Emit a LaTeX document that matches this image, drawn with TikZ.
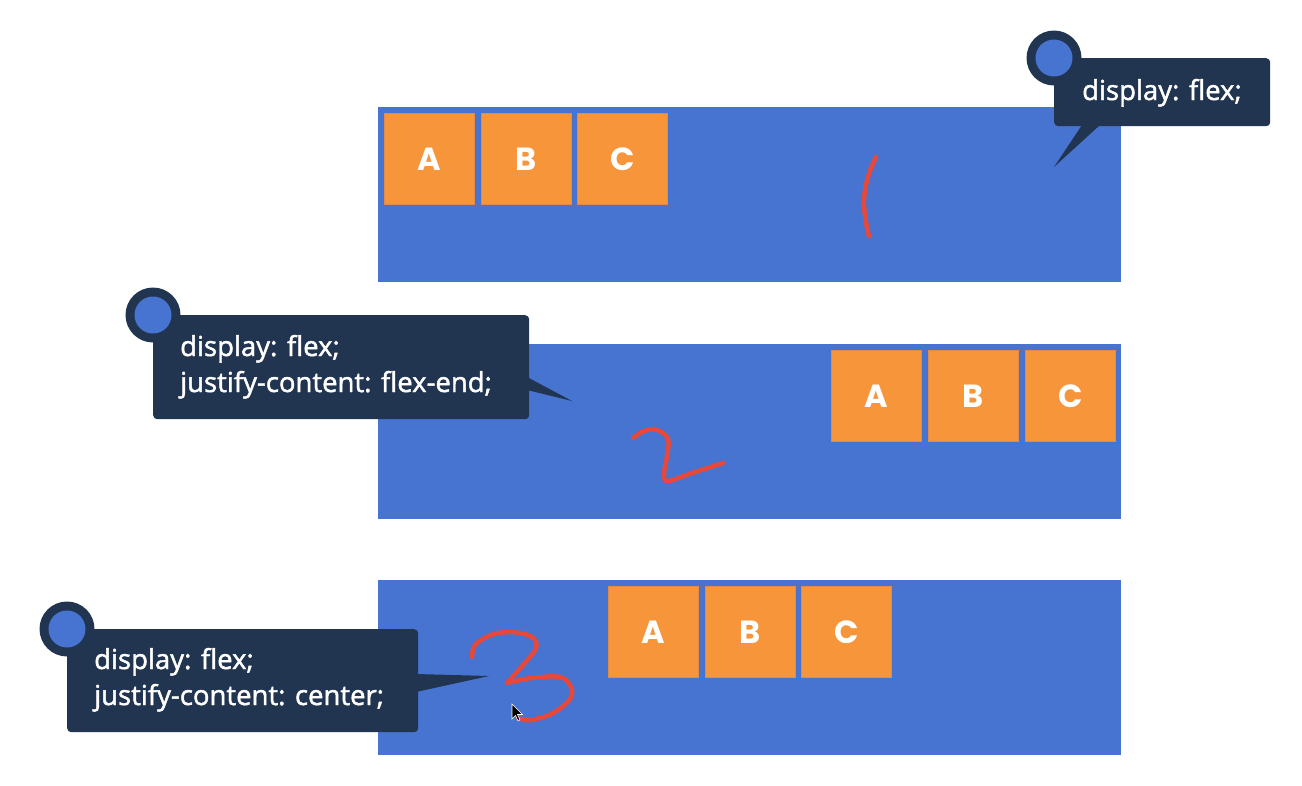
\documentclass[tikz,border=0pt]{standalone}
\usepackage{fontspec}
\setmainfont{Open Sans}
\newfontfamily\codefont{Open Sans}[FakeBold=1.6]
\newfontfamily\abcfont{Poppins}
\begin{document}
\begin{tikzpicture}[x=1pt,y=-1pt]
\definecolor{flexblue}{RGB}{70,116,208}
\definecolor{itemorange}{RGB}{247,149,59}
\definecolor{itemedge}{RGB}{225,140,70}
\definecolor{navy}{RGB}{34,53,80}
\definecolor{penred}{RGB}{232,72,58}
\tikzset{
  container/.style={fill=flexblue, draw=none, anchor=north west, minimum width=743pt, minimum height=175pt, inner sep=0pt},
  item/.style={fill=itemorange, draw=itemedge, line width=0.6pt, anchor=north west, minimum width=90pt, minimum height=91pt, inner sep=0pt, text=white, font=\abcfont\bfseries\fontsize{32}{32}\selectfont},
  callbox/.style={fill=navy, draw=none, rounded corners=4pt, anchor=north west, inner sep=0pt},
  ring/.style={circle, fill=navy, minimum size=55pt, inner sep=0pt},
  dot/.style={circle, fill=flexblue, minimum size=37pt, inner sep=0pt},
  codetext/.style={text=white, anchor=base west, inner sep=0pt, font=\codefont\fontsize{27.5}{30}\selectfont},
  pen/.style={draw=penred, line width=4.5pt, line cap=round, line join=round},
}
\useasboundingbox (0,0) rectangle (1302,785);
\fill[white] (0,0) rectangle (1302,785);

% containers
\node[container] (c1) at (378,107) {};
\node[container] (c2) at (378,344) {};
\node[container] (c3) at (378,580) {};

% items row 1 (flex-start)
\node[item] (a1) at (384,113) {A};
\node[item] (b1) at (480.5,113) {B};
\node[item] (cc1) at (577,113) {C};
% items row 2 (flex-end)
\node[item] (a2) at (831,350) {A};
\node[item] (b2) at (928,350) {B};
\node[item] (cc2) at (1025,350) {C};
% items row 3 (center)
\node[item] (a3) at (608,586) {A};
\node[item] (b3) at (704.5,586) {B};
\node[item] (cc3) at (801,586) {C};

% callout 1
\coordinate (t1l) at (1082,125);
\coordinate (t1r) at (1100,125);
\coordinate (t1tip) at (1054,167);
\fill[navy] (t1l) -- (t1tip) -- (t1r) -- cycle;
\node[callbox, minimum width=216pt, minimum height=68pt] (k1) at (1054,58) {};
\node[ring] (r1) at (k1.north west) {};
\node[dot] (d1) at (r1.center) {};
\node[codetext] (x1) at (1082,100) {display: flex;};

% callout 2
\coordinate (t2t) at (527,377);
\coordinate (t2b) at (527,390);
\coordinate (t2tip) at (572,401);
\fill[navy] (t2t) -- (t2tip) -- (t2b) -- cycle;
\node[callbox, minimum width=376pt, minimum height=104pt] (k2) at (153,315) {};
\node[ring] (r2) at (k2.north west) {};
\node[dot] (d2) at (r2.center) {};
\node[codetext] (x2a) at (180,356) {display: flex;};
\node[codetext] (x2b) at (180,392) {justify-content: flex-end;};

% callout 3
\coordinate (t3t) at (416,674);
\coordinate (t3b) at (416,692);
\coordinate (t3tip) at (489,676);
\fill[navy] (t3t) -- (t3tip) -- (t3b) -- cycle;
\node[callbox, minimum width=351pt, minimum height=103pt] (k3) at (67,629) {};
\node[ring] (r3) at (k3.north west) {};
\node[dot] (d3) at (r3.center) {};
\node[codetext] (x3a) at (94,669) {display: flex;};
\node[codetext] (x3b) at (94,705) {justify-content: center;};

% hand-drawn numbers
\draw[pen] plot[smooth, tension=0.7] coordinates {(876,157) (868,177) (864,200) (866,222) (869,236)};
\draw[pen] plot[smooth, tension=0.6] coordinates {(633,438) (644,431) (657,430) (668,439) (667,456) (664,474) (668,481) (692,473) (723,463)};
\draw[pen] plot[smooth, tension=0.6] coordinates {(472,657) (475,645) (491,635) (512,632) (532,637) (536,648) (523,665) (507,683)};
\draw[pen] plot[smooth, tension=0.6] coordinates {(507,683) (532,678) (560,677) (571,687) (570,699) (553,713) (531,720) (518,718)};

% mouse cursor
\coordinate (cur) at (512,704);
\filldraw[fill=black, draw=white, line width=0.6pt, shift={(cur)}]
  (0,0) -- (0,15) -- (3.5,11.5) -- (6,17) -- (8,16) -- (5.5,10.5) -- (10.5,10.5) -- cycle;
\end{tikzpicture}
\end{document}
